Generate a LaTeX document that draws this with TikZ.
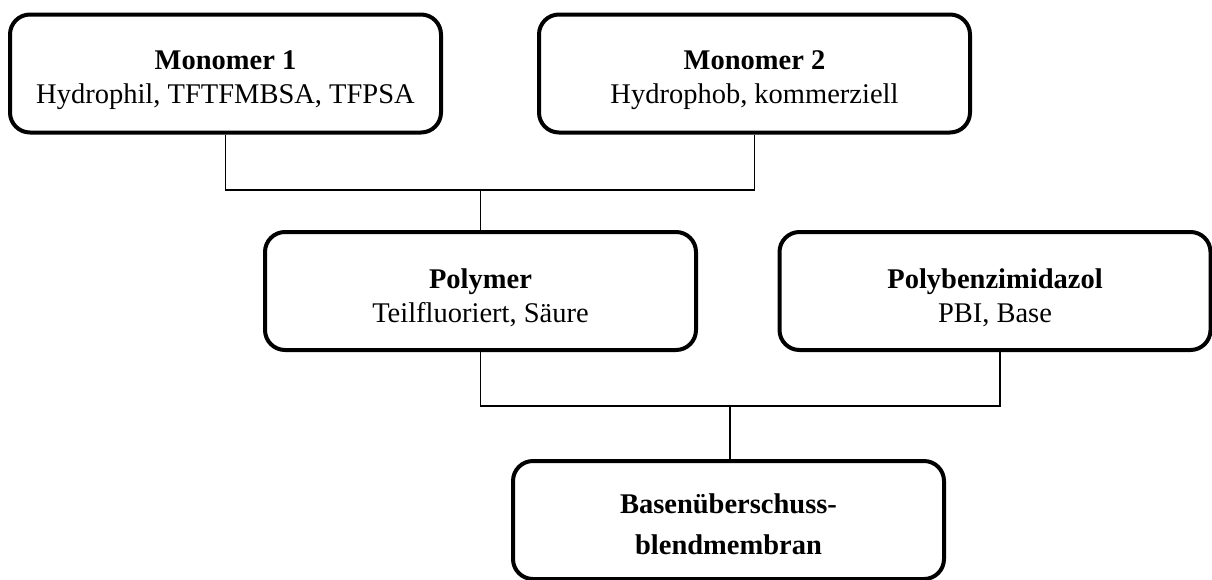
\documentclass[tikz,border=0pt]{standalone}
\usepackage{fontspec}
\setmainfont{Liberation Serif}
\newcommand{\topstrut}{\rule{0pt}{33pt}}
\newcommand{\botstrut}{\rule[-5pt]{0pt}{5pt}}
\begin{document}
\begin{tikzpicture}[x=1pt,y=-1pt,
  box/.style={draw=black,line width=4pt,rounded corners=20pt,minimum width=431pt,minimum height=118pt,align=center,inner sep=0pt,font=\fontsize{28.5}{34}\selectfont},
  conn/.style={draw=black,line width=1.3pt}]
\useasboundingbox (0,0) rectangle (1212,579);
\node[box] (m1) at (225.5,73.5) {\topstrut\textbf{Monomer 1}\\Hydrophil, TFTFMBSA, TFPSA\botstrut};
\node[box] (m2) at (754.5,73.5) {\topstrut\textbf{Monomer 2}\\Hydrophob, kommerziell\botstrut};
\node[box] (poly) at (480.5,291) {\topstrut\textbf{Polymer}\\Teilfluoriert, Säure\botstrut};
\node[box] (pbi) at (995,291) {\topstrut\textbf{Polybenzimidazol}\\PBI, Base\botstrut};
\node[box] (bm) at (728.5,520) {\topstrut\textbf{Basenüberschuss-}\\[6.5pt]\textbf{blendmembran}\botstrut};
\coordinate (j1) at (480.5,190);
\coordinate (j2) at (730,406);
\draw[conn] (m1.south) |- (j1) -| (m2.south);
\draw[conn] (j1) -- (poly.north);
\draw[conn] (poly.south) |- (j2) -| ([xshift=5pt]pbi.south);
\draw[conn] (j2) -- (bm.north -| j2);
\end{tikzpicture}
\end{document}
